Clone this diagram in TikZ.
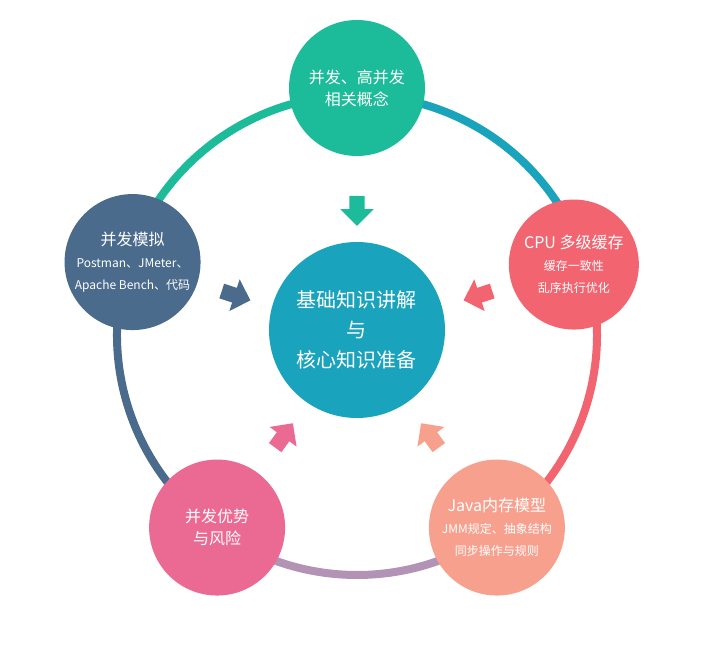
\documentclass[tikz,border=0pt]{standalone}
\usepackage{fontspec}
\setmainfont{Noto Sans CJK SC}
\usetikzlibrary{shapes.arrows}
\definecolor{cgreen}{HTML}{1CBC9A}
\definecolor{cteal}{HTML}{1AA3BC}
\definecolor{cnavy}{HTML}{4A6B8C}
\definecolor{cred}{HTML}{F2646F}
\definecolor{cpink}{HTML}{EA6A93}
\definecolor{csalmon}{HTML}{F8A08E}
\definecolor{cpurple}{HTML}{B393B5}
\begin{document}
\begin{tikzpicture}[x=1pt,y=1pt,
  ring/.style={line width=8pt},
  bub/.style={circle,minimum size=136pt,inner sep=0pt,text=white,align=center,font=\fontsize{16}{22}\selectfont},
  arr/.style={single arrow,inner sep=0pt,single arrow head extend=9pt,single arrow tip angle=90}]
\useasboundingbox[fill=white] (-357,335) rectangle (358,-325);
\def\R{240}
\def\ac{\phantom{\rule{22pt}{15pt}}}
\draw[ring,cgreen] (90:\R) arc (90:162:\R);
\draw[ring,cnavy] (162:\R) arc (162:234:\R);
\draw[ring,cpurple] (234:\R) arc (234:306:\R);
\draw[ring,cred] (306:\R) arc (306:378:\R);
\draw[ring,cteal] (18:\R) arc (18:90:\R);
\node[bub,fill=cteal,minimum size=176pt,font=\fontsize{20}{30}\selectfont] (c) at (0,5) {基础知识讲解\\与\\核心知识准备};
\node[bub,fill=cgreen] (t) at (0,247) {并发、高并发\\相关概念};
\node[bub,fill=cnavy] (l) at (162:236) {并发模拟\\{\fontsize{12}{17}\selectfont Postman、JMeter、}\\{\fontsize{12}{17}\selectfont Apache Bench、代码}};
\node[bub,fill=cred,minimum size=130pt] (r) at (18:228) {CPU 多级缓存\\{\fontsize{12}{18}\selectfont 缓存一致性}\\{\fontsize{12}{18}\selectfont 乱序执行优化}};
\node[bub,fill=cpink] (bl) at (234:238) {并发优势\\与风险};
\node[bub,fill=csalmon] (br) at (306:238) {Java内存模型\\{\fontsize{12}{18}\selectfont JMM规定、抽象结构}\\{\fontsize{12}{18}\selectfont 同步操作与规则}};
\node[arr,fill=cgreen,rotate=-90] (at) at (90:128) {\ac};
\node[arr,fill=cnavy,rotate=-18] (al) at (162:131) {\ac};
\node[arr,fill=cred,rotate=198] (ar) at (18:131) {\ac};
\node[arr,fill=cpink,rotate=54] (abl) at (234:128) {\ac};
\node[arr,fill=csalmon,rotate=126] (abr) at (306:128) {\ac};
\end{tikzpicture}
\end{document}
